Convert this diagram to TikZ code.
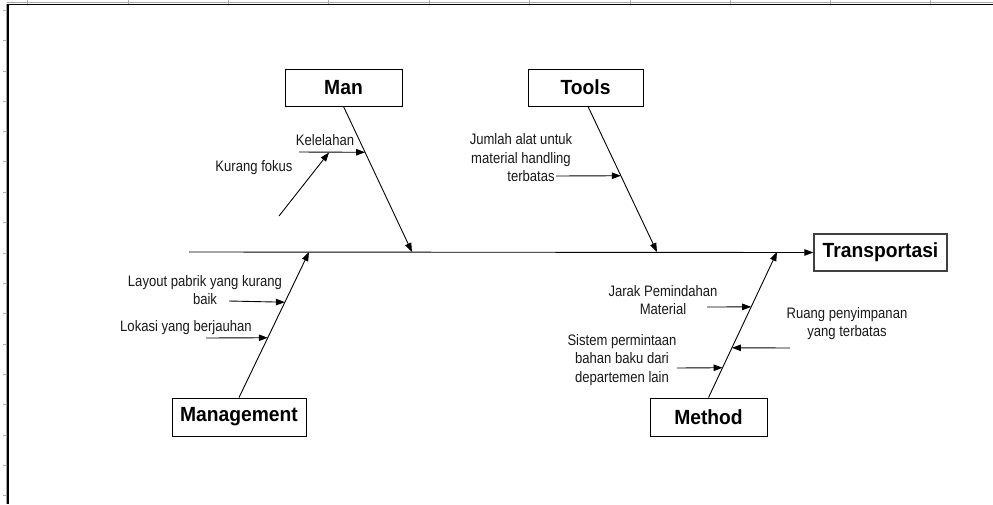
\documentclass[tikz,border=0pt]{standalone}
\usepackage{fontspec}
\setmainfont{Liberation Sans}
\newfontfamily\lblfont[FakeStretch=0.86]{Liberation Sans}
\newfontfamily\catfont[FakeStretch=0.94]{Liberation Sans}
\usetikzlibrary{arrows.meta,calc}
\tikzset{
  cat/.style={draw, line width=0.9pt, inner sep=0pt, font=\catfont\fontsize{20.5}{22}\selectfont\bfseries},
  lbl/.style={font=\lblfont\fontsize{15.2}{18.5}\selectfont, align=center, inner sep=0pt, text=black!90},
  bone/.style={line width=0.9pt, -{Triangle[length=9pt,width=6.5pt]}},
  tick/.style={black!30, line width=0.8pt}
}
\begin{document}
\begin{tikzpicture}[x=1pt,y=-1pt]
\useasboundingbox (0,0) rectangle (993,504);
\fill[white] (0,0) rectangle (993,504);

% sheet frame with its ruler ticks
\foreach \yy in {10,40,71,101,131,161,192,222,253,283,313,344,374,404,435,465,495}
  \draw[tick] (3,\yy) -- (7,\yy);
\foreach \xx in {27,128,228,328,429,529,630,730,830,930}
  \draw[tick] (\xx,0) -- (\xx,3.5);
\draw[black!35, line width=0.8pt] (6.2,4) -- (6.2,504);
\draw[black!35, line width=0.8pt] (7,2.8) -- (993,2.8);
\draw[black, line width=1.3pt] (8,4.5) -- (8,504);
\draw[black, line width=1.3pt] (7.4,4.5) -- (993,4.5);

% category boxes and effect
\node[cat, minimum width=117pt, minimum height=37pt] (man) at (343.5,87.5) {Man};
\node[cat, minimum width=115pt, minimum height=37pt] (tools) at (585.5,87.5) {Tools};
\node[cat, minimum width=134pt, minimum height=38pt] (mgmt) at (239,417) {Management};
\node[cat, minimum width=117pt, minimum height=38pt] (method) at (708.5,417) {Method};
\node[cat, minimum width=133pt, minimum height=37pt, draw=black!75, line width=1.2pt] (effect) at (880.5,252.5) {Transportasi};

% spine
\coordinate (tail) at (189,252);
\draw[bone] (tail) -- (effect.west);

% junctions of the main bones on the spine
\coordinate (jman) at (412,252);
\coordinate (jtools) at (657,252);
\coordinate (jmgmt) at (309,252);
\coordinate (jmethod) at (777,252);

\coordinate (toolsfoot) at ([xshift=2.5pt]tools.south);
\draw[bone] (man.south) -- (jman);
\draw[bone] (toolsfoot) -- (jtools);
\draw[bone] (mgmt.north) -- (jmgmt);
\draw[bone] (method.north) -- (jmethod);

% Man
\coordinate (kelTip) at ($(man.south)!0.315!(jman)$);
\coordinate (kelTail) at (299,152);
\node[lbl] (kel) at (325,140) {Kelelahan};
\draw[bone] (kelTail) -- (kelTip);
\coordinate (fokTip) at (329,152.5);
\coordinate (fokTail) at (279,216);
\node[lbl] (fok) at (254,168) {Kurang fokus};
\draw[bone] (fokTail) -- (fokTip);

% Tools
\coordinate (jmlTip) at ($(toolsfoot)!0.476!(jtools)$);
\coordinate (jmlTail) at (556,176);
\node[lbl] (jml) at (521,158) {Jumlah alat untuk\\material handling\\\hspace*{20pt}terbatas};
\draw[bone] (jmlTail) -- (jmlTip);

% Management
\coordinate (layTip) at ($(mgmt.north)!0.655!(jmgmt)$);
\coordinate (layTail) at (229,301);
\node[lbl] (lay) at (205,290) {Layout pabrik yang kurang\\baik};
\draw[bone] (layTail) -- (layTip);
\coordinate (lokTip) at ($(mgmt.north)!0.411!(jmgmt)$);
\coordinate (lokTail) at (206,338);
\node[lbl] (lok) at (186,328) {Lokasi yang berjauhan};
\draw[bone] (lokTail) -- (lokTip);

% Method
\coordinate (jarTip) at ($(method.north)!0.623!(jmethod)$);
\coordinate (jarTail) at (707,307);
\node[lbl] (jar) at (663,300) {Jarak Pemindahan\\Material};
\draw[bone] (jarTail) -- (jarTip);
\coordinate (sisTip) at ($(method.north)!0.205!(jmethod)$);
\coordinate (sisTail) at (677,368);
\node[lbl] (sis) at (622,360) {Sistem permintaan\\bahan baku dari\\departemen lain};
\draw[bone] (sisTail) -- (sisTip);
\coordinate (ruaTip) at ($(method.north)!0.342!(jmethod)$);
\coordinate (ruaTail) at (790,348);
\node[lbl] (rua) at (847,323.5) {Ruang penyimpanan\\yang terbatas};
\draw[bone] (ruaTail) -- (ruaTip);
\end{tikzpicture}
\end{document}
